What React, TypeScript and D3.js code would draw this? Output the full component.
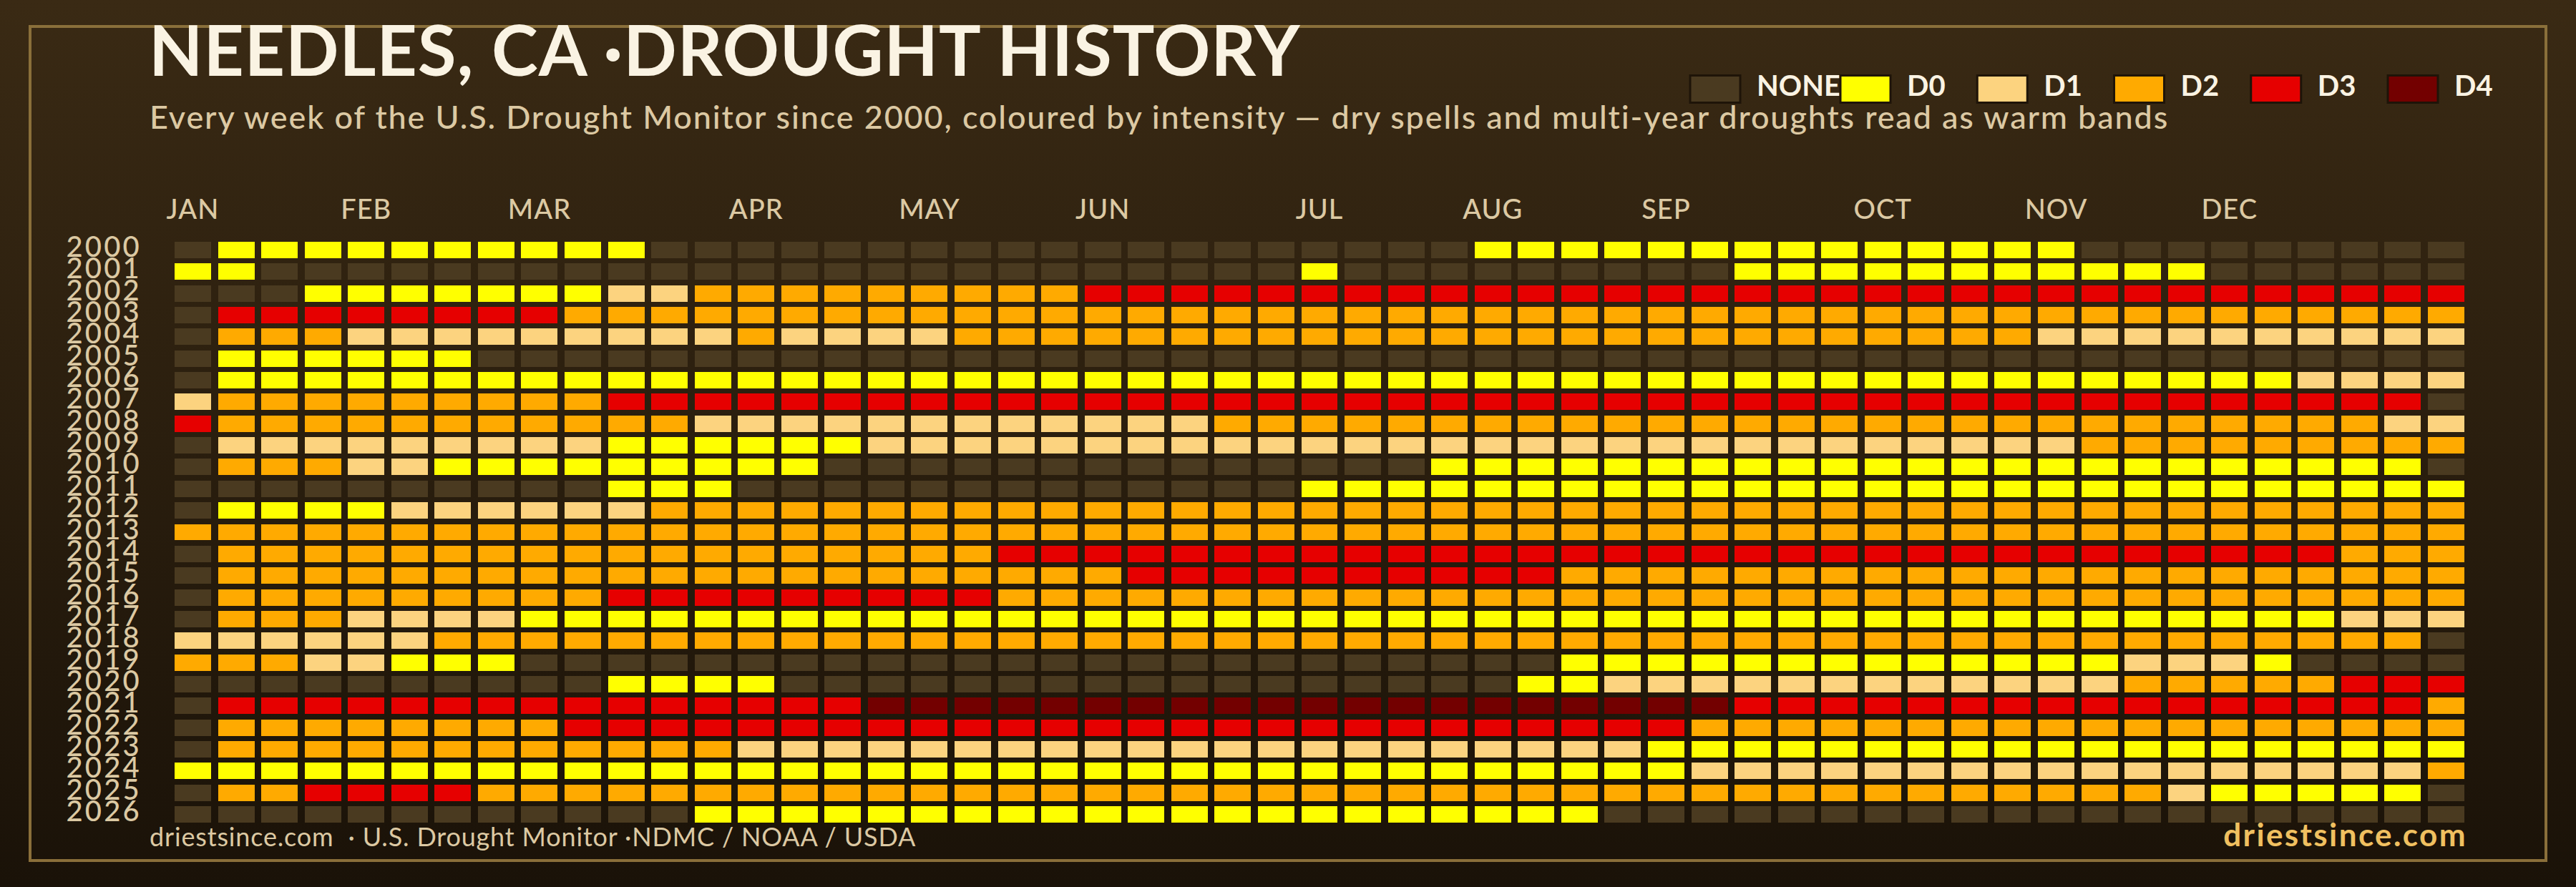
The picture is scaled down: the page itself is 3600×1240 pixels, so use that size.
import { useEffect, useRef } from "react"
import * as d3 from "d3"

const WIDTH = 3600
const HEIGHT = 1240

const years = [
  2000, 2001, 2002, 2003, 2004, 2005, 2006, 2007, 2008, 2009, 2010, 2011, 2012, 2013,
  2014, 2015, 2016, 2017, 2018, 2019, 2020, 2021, 2022, 2023, 2024, 2025, 2026,
]

// 0 = none, 1..5 = D0..D4
const levelColors = ["#4a3a20", "#ffff00", "#fcd37f", "#ffaa00", "#e60000", "#730000"]
const legendLabels = ["NONE", "D0", "D1", "D2", "D3", "D4"]

const monthLabels = ["JAN", "FEB", "MAR", "APR", "MAY", "JUN", "JUL", "AUG", "SEP", "OCT", "NOV", "DEC"]
const monthWeeks = [0, 4, 8, 13, 17, 21, 26, 30, 34, 39, 43, 47]

// one list per year, as runs of level, weeks
const runs2000 = [0, 1, 1, 10, 0, 19, 1, 14, 0, 9]
const runs2001 = [1, 2, 0, 24, 1, 1, 0, 9, 1, 11, 0, 6]
const runs2002 = [0, 3, 1, 7, 2, 2, 3, 9, 4, 32]
const runs2003 = [0, 1, 4, 8, 3, 44]
const runs2004 = [0, 1, 3, 3, 2, 9, 3, 1, 2, 4, 3, 25, 2, 10]
const runs2005 = [0, 1, 1, 6, 0, 46]
const runs2006 = [0, 1, 1, 48, 2, 4]
const runs2007 = [2, 1, 3, 9, 4, 42, 0, 1]
const runs2008 = [4, 1, 3, 11, 2, 12, 3, 27, 2, 2]
const runs2009 = [0, 1, 2, 9, 1, 6, 2, 28, 3, 9]
const runs2010 = [0, 1, 3, 3, 2, 2, 1, 9, 0, 14, 1, 23, 0, 1]
const runs2011 = [0, 10, 1, 3, 0, 13, 1, 27]
const runs2012 = [0, 1, 1, 4, 2, 6, 3, 42]
const runs2013 = [3, 53]
const runs2014 = [0, 1, 3, 18, 4, 31, 3, 3]
const runs2015 = [0, 1, 3, 21, 4, 10, 3, 21]
const runs2016 = [0, 1, 3, 9, 4, 9, 3, 34]
const runs2017 = [0, 1, 3, 3, 2, 4, 1, 42, 2, 3]
const runs2018 = [2, 6, 3, 46, 0, 1]
const runs2019 = [3, 3, 2, 2, 1, 3, 0, 24, 1, 13, 2, 3, 1, 1, 0, 4]
const runs2020 = [0, 10, 1, 4, 0, 17, 1, 2, 2, 12, 3, 5, 4, 3]
const runs2021 = [0, 1, 4, 15, 5, 20, 4, 16, 3, 1]
const runs2022 = [0, 1, 3, 8, 4, 26, 3, 18]
const runs2023 = [0, 1, 3, 12, 2, 21, 1, 19]
const runs2024 = [1, 35, 2, 17, 3, 1]
const runs2025 = [0, 1, 3, 2, 4, 4, 3, 39, 2, 1, 1, 5, 0, 1]
const runs2026 = [0, 12, 1, 21, 0, 20]

const yearRuns = [
  runs2000, runs2001, runs2002, runs2003, runs2004, runs2005, runs2006, runs2007, runs2008,
  runs2009, runs2010, runs2011, runs2012, runs2013, runs2014, runs2015, runs2016, runs2017,
  runs2018, runs2019, runs2020, runs2021, runs2022, runs2023, runs2024, runs2025, runs2026,
]

const weekCount = 53

function expandRuns(runs: number[]) {
  const levels: number[] = []
  for (let i = 0; i < runs.length; i += 2) {
    for (let k = 0; k < runs[i + 1]; k++) levels.push(runs[i])
  }
  return levels
}

export default function App() {
  const svgRef = useRef<SVGSVGElement>(null)

  useEffect(() => {
    if (!svgRef.current) return
    const svg = d3.select(svgRef.current)
    svg.selectAll("*").remove()

    const font = "Lato, sans-serif"

    // Background and frame
    const gradient = svg.append("defs").append("linearGradient")
      .attr("id", "bg").attr("x1", 0).attr("y1", 0).attr("x2", 0).attr("y2", 1)
    gradient.append("stop").attr("offset", "0%").attr("stop-color", "#3a2a14")
    gradient.append("stop").attr("offset", "100%").attr("stop-color", "#1a1208")

    svg.append("rect").attr("width", WIDTH).attr("height", HEIGHT).attr("fill", "url(#bg)")
    svg.append("rect")
      .attr("x", 42).attr("y", 37).attr("width", 3516).attr("height", 1166)
      .attr("fill", "none").attr("stroke", "#8a6f3a").attr("stroke-width", 4)

    // Scales
    const x = d3.scaleBand<number>()
      .domain(d3.range(weekCount))
      .range([244, 3444])
      .paddingInner(0.158)
    const y = d3.scaleBand<number>()
      .domain(years)
      .range([338, 1150])
      .paddingInner(0.245)
    const color = d3.scaleOrdinal<number, string>()
      .domain(levelColors.map((_, i) => i))
      .range(levelColors)

    // Heatmap cells
    const rows = svg.append("g").selectAll("g")
      .data(years)
      .join("g")
      .attr("transform", (d) => `translate(0,${y(d)})`)

    rows.selectAll("rect")
      .data((_, i) => expandRuns(yearRuns[i]))
      .join("rect")
      .attr("x", (_, i) => x(i) as number)
      .attr("width", x.bandwidth())
      .attr("height", y.bandwidth())
      .attr("fill", (d) => color(d))
      .attr("shape-rendering", "crispEdges")

    // Year labels
    svg.append("g").selectAll("text")
      .data(years)
      .join("text")
      .attr("x", 198)
      .attr("y", (d) => (y(d) as number) + y.bandwidth() / 2 + 9.5)
      .attr("text-anchor", "end")
      .attr("font-family", font)
      .attr("font-size", 40)
      .attr("font-weight", 500)
      .attr("letter-spacing", 3.2)
      .attr("fill", "#dcc9a3")
      .text((d) => d)

    // Month labels
    svg.append("g").selectAll("text")
      .data(monthLabels)
      .join("text")
      .attr("x", (_, i) => (x(monthWeeks[i]) as number) + x.bandwidth() / 2)
      .attr("y", 306)
      .attr("text-anchor", "middle")
      .attr("font-family", font)
      .attr("font-size", 38)
      .attr("font-weight", 500)
      .attr("letter-spacing", 1)
      .attr("fill", "#dcc9a3")
      .text((d) => d)

    // Title block
    svg.append("text")
      .attr("x", 208).attr("y", 106)
      .attr("font-family", font).attr("font-size", 98).attr("font-weight", 700)
      .attr("letter-spacing", 0.95)
      .attr("fill", "#faf3e3")
      .text("NEEDLES, CA ·DROUGHT HISTORY")
    svg.append("text")
      .attr("x", 209).attr("y", 180)
      .attr("font-family", font).attr("font-size", 45).attr("font-weight", 500)
      .attr("letter-spacing", 1.85)
      .attr("fill", "#dcc9a3")
      .text("Every week of the U.S. Drought Monitor since 2000, coloured by intensity — dry spells and multi-year droughts read as warm bands")

    // Legend
    const legendX = d3.scalePoint<string>()
      .domain(legendLabels.slice(1))
      .range([2572, 3337])
    const legend = svg.append("g").selectAll("g")
      .data(legendLabels)
      .join("g")
      .attr("transform", (d) => `translate(${d === "NONE" ? 2362 : legendX(d)},105.5)`)
    legend.append("rect")
      .attr("width", 70).attr("height", 38)
      .attr("fill", (_, i) => levelColors[i])
      .attr("stroke", "#1e1408").attr("stroke-width", 3)
    legend.append("text")
      .attr("x", 93).attr("y", 28.5)
      .attr("font-family", font).attr("font-size", 40).attr("font-weight", 700)
      .attr("fill", "#faf3e3")
      .text((d) => d)

    // Footer
    svg.append("text")
      .attr("x", 209).attr("y", 1183)
      .attr("font-family", font).attr("font-size", 36)
      .attr("letter-spacing", 0.83)
      .attr("fill", "#dcc9a3")
      .style("white-space", "pre")
      .text("driestsince.com  · U.S. Drought Monitor ·NDMC / NOAA / USDA")
    svg.append("text")
      .attr("x", 3448).attr("y", 1183)
      .attr("text-anchor", "end")
      .attr("font-family", font).attr("font-size", 44).attr("font-weight", 700)
      .attr("letter-spacing", 2.4)
      .attr("fill", "#f0c060")
      .text("driestsince.com")
  }, [])

  return (
    <svg
      ref={svgRef}
      width={WIDTH}
      height={HEIGHT}
      style={{ position: "absolute", left: 0, top: 0, display: "block" }}
    />
  )
}
